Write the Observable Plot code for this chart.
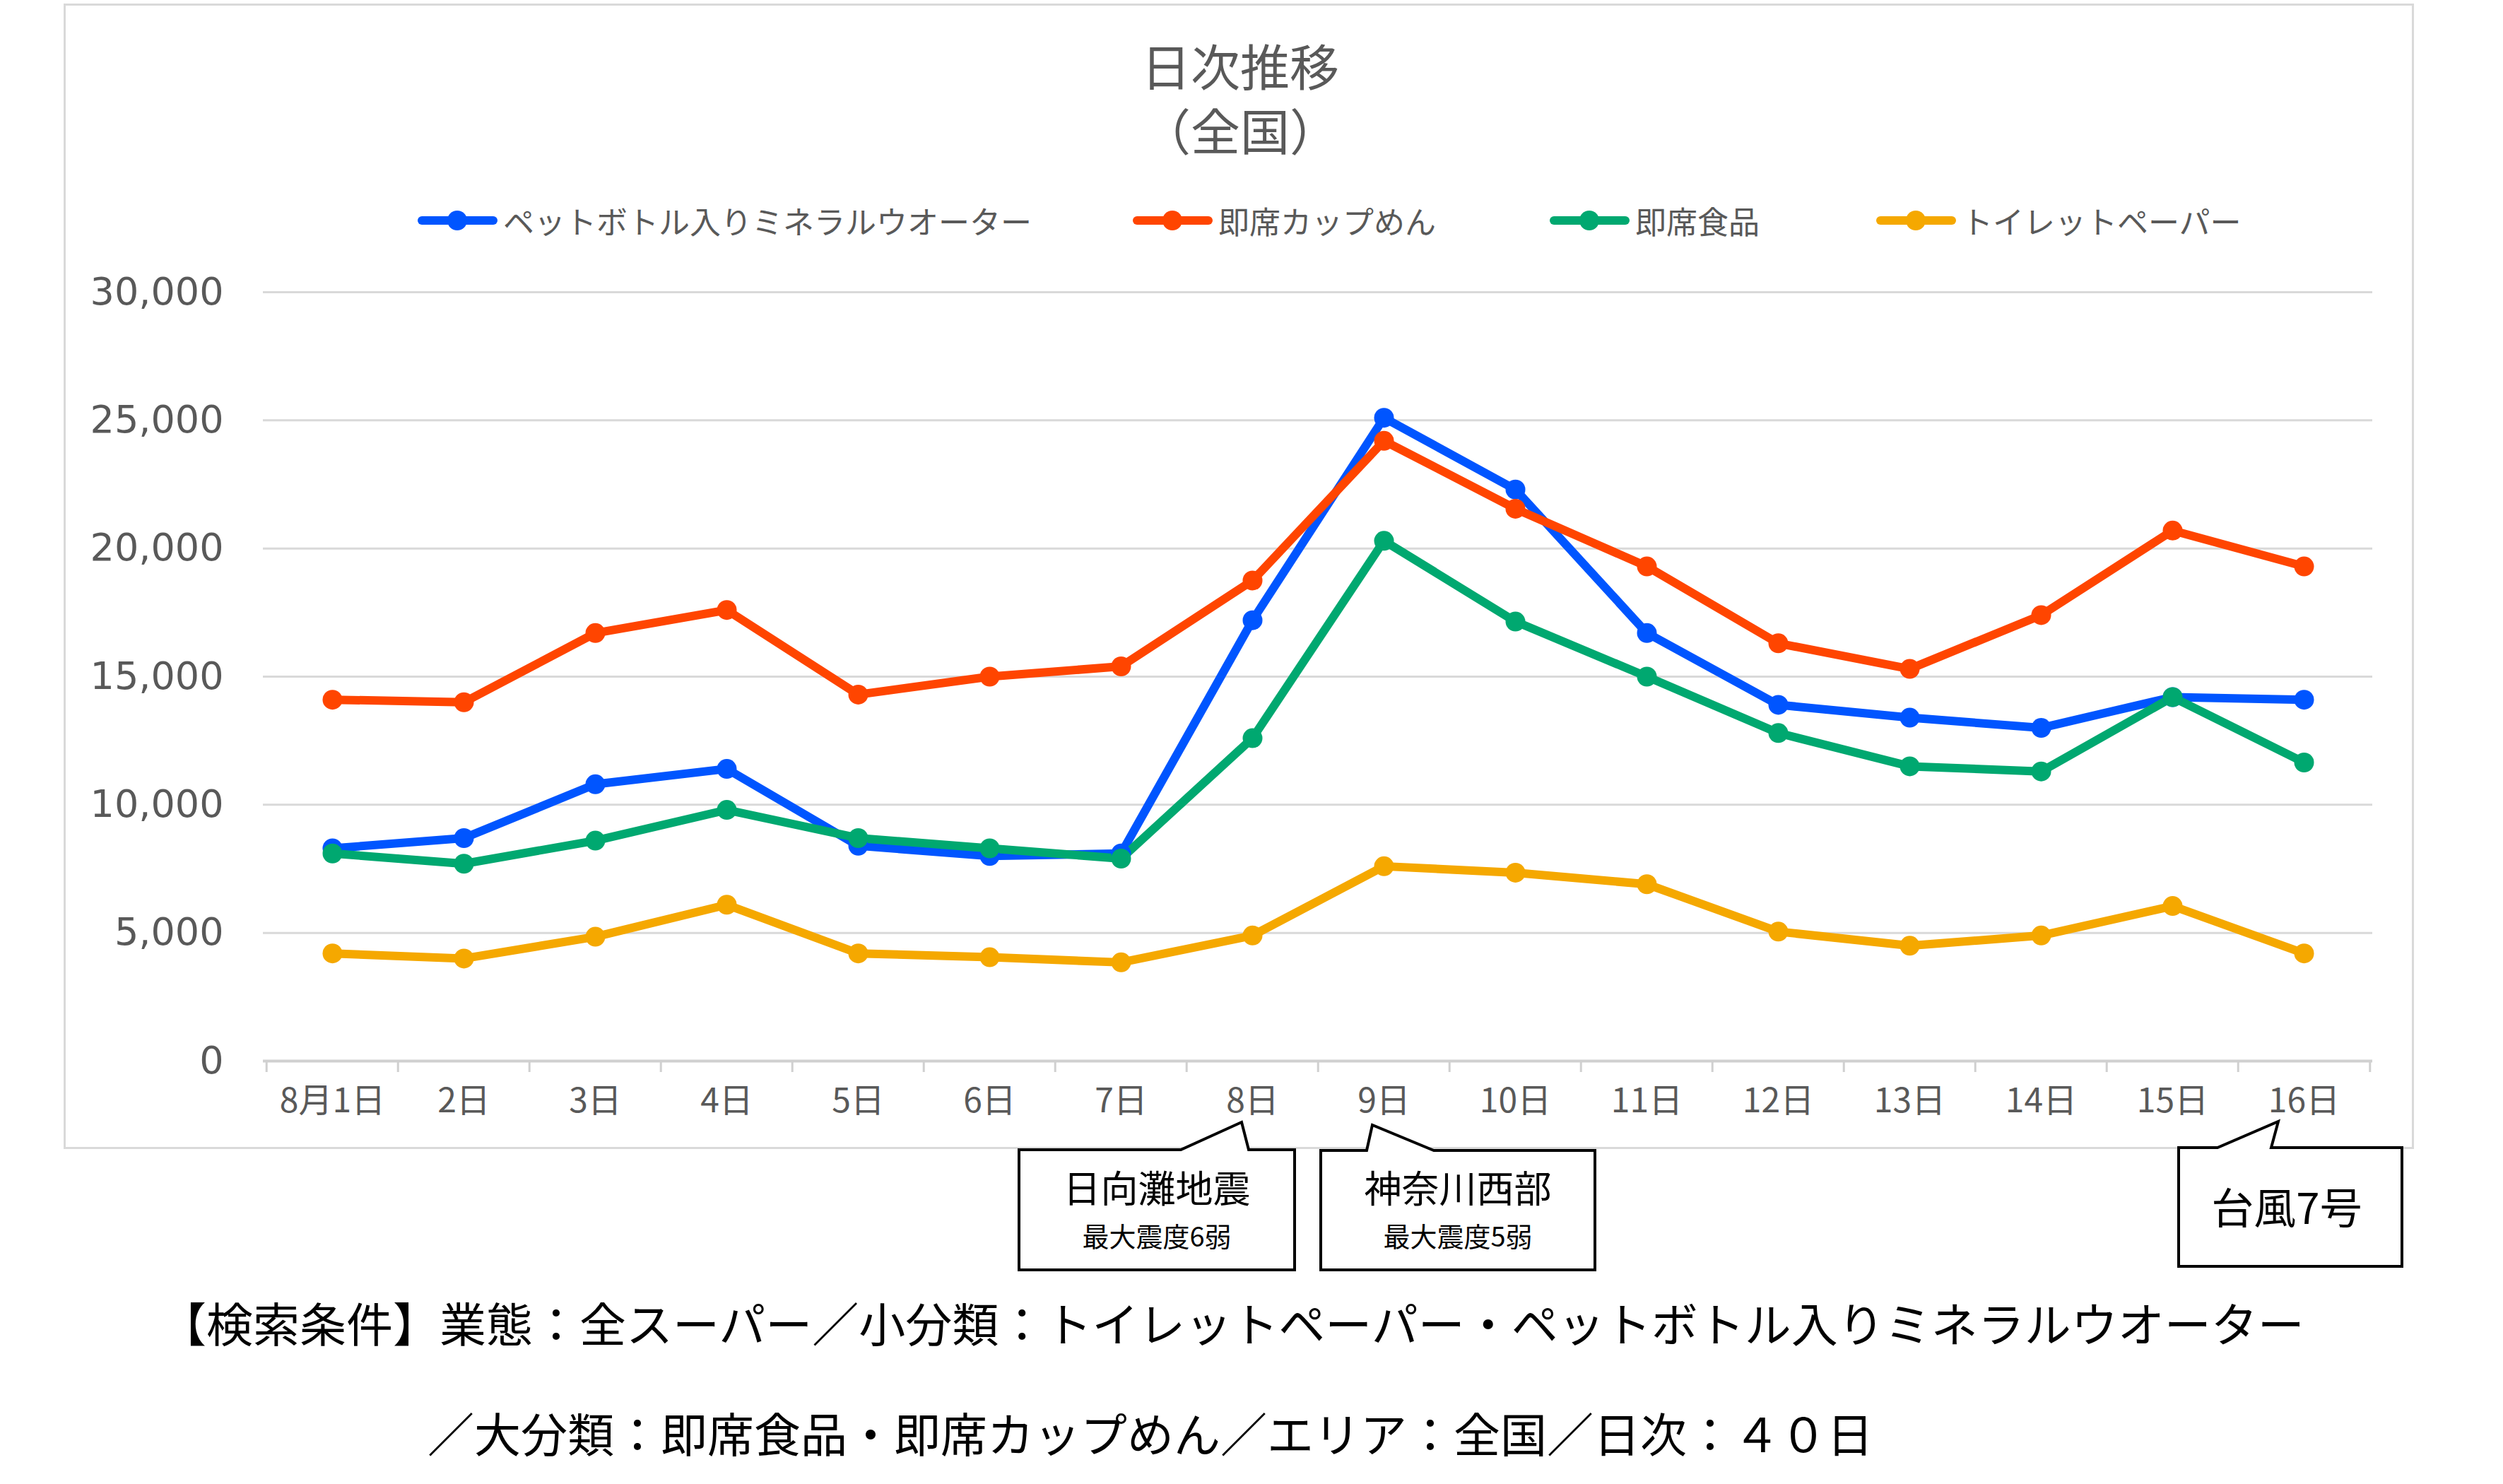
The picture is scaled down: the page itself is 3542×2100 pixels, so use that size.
<!DOCTYPE html>
<html>
<head>
<meta charset="utf-8">
<script src="https://cdn.jsdelivr.net/npm/d3@7"></script>
<script src="https://cdn.jsdelivr.net/npm/@observablehq/plot@0.6"></script>
<style>
html, body { margin: 0; padding: 0; background: #fff; overflow: hidden; }
#page { position: relative; width: 3542px; height: 2100px; font-family: "Noto Sans CJK JP", "Noto Sans", sans-serif; }
.abs { position: absolute; white-space: nowrap; }
#frame { position: absolute; left: 90px; top: 5px; width: 3320px; height: 1615px; border: 3px solid #d9d9d9; box-sizing: content-box; }
#chart { position: absolute; left: 0; top: 0; }
.title { color: #595959; font-size: 70px; line-height: 70px; text-align: center; width: 800px; left: 1355px; }
.leg { position: absolute; top: 286px; height: 52px; display: flex; align-items: center; font-size: 44px; color: #595959; }
.leg svg { margin-right: 8px; }
.cap { color: #000; font-size: 66px; line-height: 66px; }
.call { color: #000; text-align: center; }
</style>
</head>
<body>
<div id="page">
  <div id="frame"></div>
  <div id="chart"></div>
  <div class="abs title" id="t1" style="top:57px;"></div>
  <div class="abs title" id="t2" style="top:148px;"></div>
  <div id="legend"></div>
  <svg id="callouts" class="abs" style="left:0;top:0;" width="3542" height="2100"></svg>
  <div id="calltext"></div>
  <div class="abs cap" id="cap1" style="left:226px;top:1837px;"></div>
  <div class="abs cap" id="cap2" style="left:605px;top:1993px;"></div>
</div>
<script>
// ---- data ----
const days = ["8月1日","2日","3日","4日","5日","6日","7日","8日","9日","10日","11日","12日","13日","14日","15日","16日"];
const seriesNames = ["ペットボトル入りミネラルウオーター","即席カップめん","即席食品","トイレットペーパー"];
const water       = [8300, 8700, 10800, 11400, 8400, 8000, 8100, 17200, 25100, 22300, 16700, 13900, 13400, 13000, 14200, 14100];
const cupNoodles  = [14100, 14000, 16700, 17600, 14300, 15000, 15400, 18750, 24200, 21550, 19300, 16300, 15300, 17400, 20700, 19300];
const instantFood = [8100, 7700, 8600, 9800, 8700, 8300, 7900, 12600, 20300, 17150, 15000, 12800, 11500, 11300, 14200, 11650];
const toiletPaper = [4200, 4000, 4850, 6100, 4200, 4050, 3850, 4900, 7600, 7350, 6900, 5050, 4500, 4900, 6050, 4200];
const seriesColors = ["#0055ff", "#ff4500", "#00a870", "#f5a800"];
const yTicks = [0, 5000, 10000, 15000, 20000, 25000, 30000];
const titleLines = ["日次推移", "（全国）"];
const events = [
  {main: "日向灘地震", sub: "最大震度6弱"},
  {main: "神奈川西部", sub: "最大震度5弱"},
  {main: "台風7号", sub: ""}
];
const captionLines = [
  "【検索条件】業態：全スーパー／小分類：トイレットペーパー・ペットボトル入りミネラルウオーター",
  "／大分類：即席食品・即席カップめん／エリア：全国／日次：４０日"
];

// ---- build table ----
const allSeries = [water, cupNoodles, instantFood, toiletPaper];
const rows = [];
allSeries.forEach((vals, s) => vals.forEach((v, i) => rows.push({series: seriesNames[s], day: days[i], value: v})));

// ---- chart ----
const W = 3542, H = 1622, mL = 372, mR = 185, mT = 413, mB = 121;
const step = (W - mL - mR) / days.length;
const chart = Plot.plot({
  width: W, height: H,
  marginLeft: mL, marginRight: mR, marginTop: mT, marginBottom: mB,
  style: {background: "transparent", overflow: "visible", maxWidth: "none", fontFamily: "'Noto Sans CJK JP', sans-serif"},
  x: {type: "point", domain: days, padding: 0.5, align: 0.5},
  y: {domain: [0, 30000]},
  color: {domain: seriesNames, range: seriesColors},
  marks: [
    Plot.ruleY(yTicks.filter(d => d > 0), {stroke: "#d9d9d9", strokeWidth: 3}),
    Plot.axisX({ticks: days, tickSize: 16, dx: -step / 2, tickFormat: () => "", stroke: "#d0d0d0", strokeWidth: 3, label: null}),
    Plot.axisX({ticks: days.slice(-1), tickSize: 16, dx: step / 2, tickFormat: () => "", stroke: "#d0d0d0", strokeWidth: 3, label: null}),
    Plot.ruleY([0], {stroke: "#d0d0d0", strokeWidth: 4}),
    Plot.axisX({ticks: days, tickSize: 0, tickPadding: 38, fontSize: 48, color: "#595959", label: null}),
    Plot.axisY({ticks: yTicks, tickSize: 0, tickPadding: 56, tickFormat: d3.format(","), fontSize: 54, color: "#595959", fontFamily: "DejaVu Sans", label: null}),
    Plot.line(rows, {x: "day", y: "value", z: "series", stroke: "series", strokeWidth: 12, strokeLinejoin: "round", strokeLinecap: "round"}),
    Plot.dot(rows, {x: "day", y: "value", fill: "series", r: 14})
  ]
});
document.getElementById("chart").appendChild(chart);

// ---- title ----
document.getElementById("t1").textContent = titleLines[0];
document.getElementById("t2").textContent = titleLines[1];

// ---- legend ----
const legendX = [591, 1603, 2193, 2655];
const legend = document.getElementById("legend");
seriesNames.forEach((name, i) => {
  const item = document.createElement("div");
  item.className = "leg";
  item.style.left = legendX[i] + "px";
  item.innerHTML = `<svg width="113" height="32"><line x1="6" y1="16" x2="107" y2="16" stroke="${seriesColors[i]}" stroke-width="12" stroke-linecap="round"/><circle cx="56" cy="16" r="14" fill="${seriesColors[i]}"/></svg><span>${name}</span>`;
  legend.appendChild(item);
});

// ---- callouts ----
const calloutShapes = [
  {path: "M1442,1627 L1671,1627 L1757,1588 L1767,1627 L1832,1627 L1832,1797 L1442,1797 Z", cx: 1637, mainTop: 1653, subTop: 1729, mainSize: 53, subSize: 38},
  {path: "M1869,1628 L1934,1628 L1942,1592 L2029,1628 L2257,1628 L2257,1797 L1869,1797 Z", cx: 2063, mainTop: 1653, subTop: 1729, mainSize: 53, subSize: 38},
  {path: "M3083,1624 L3138,1624 L3224,1587 L3214,1624 L3399,1624 L3399,1792 L3083,1792 Z", cx: 3236, mainTop: 1676, subTop: 0, mainSize: 60, subSize: 0}
];
const csvg = d3.select("#callouts");
const ctext = document.getElementById("calltext");
calloutShapes.forEach((c, i) => {
  csvg.append("path").attr("d", c.path).attr("fill", "#fff").attr("stroke", "#000").attr("stroke-width", 4).attr("stroke-linejoin", "miter");
  const m = document.createElement("div");
  m.className = "abs call";
  m.style.cssText = `left:${c.cx - 250}px;width:500px;top:${c.mainTop}px;font-size:${c.mainSize}px;line-height:${c.mainSize}px;`;
  m.textContent = events[i].main;
  ctext.appendChild(m);
  if (events[i].sub) {
    const s = document.createElement("div");
    s.className = "abs call";
    s.style.cssText = `left:${c.cx - 250}px;width:500px;top:${c.subTop}px;font-size:${c.subSize}px;line-height:${c.subSize}px;`;
    s.textContent = events[i].sub;
    ctext.appendChild(s);
  }
});

// ---- caption ----
document.getElementById("cap1").textContent = captionLines[0];
document.getElementById("cap2").textContent = captionLines[1];
</script>
</body>
</html>
